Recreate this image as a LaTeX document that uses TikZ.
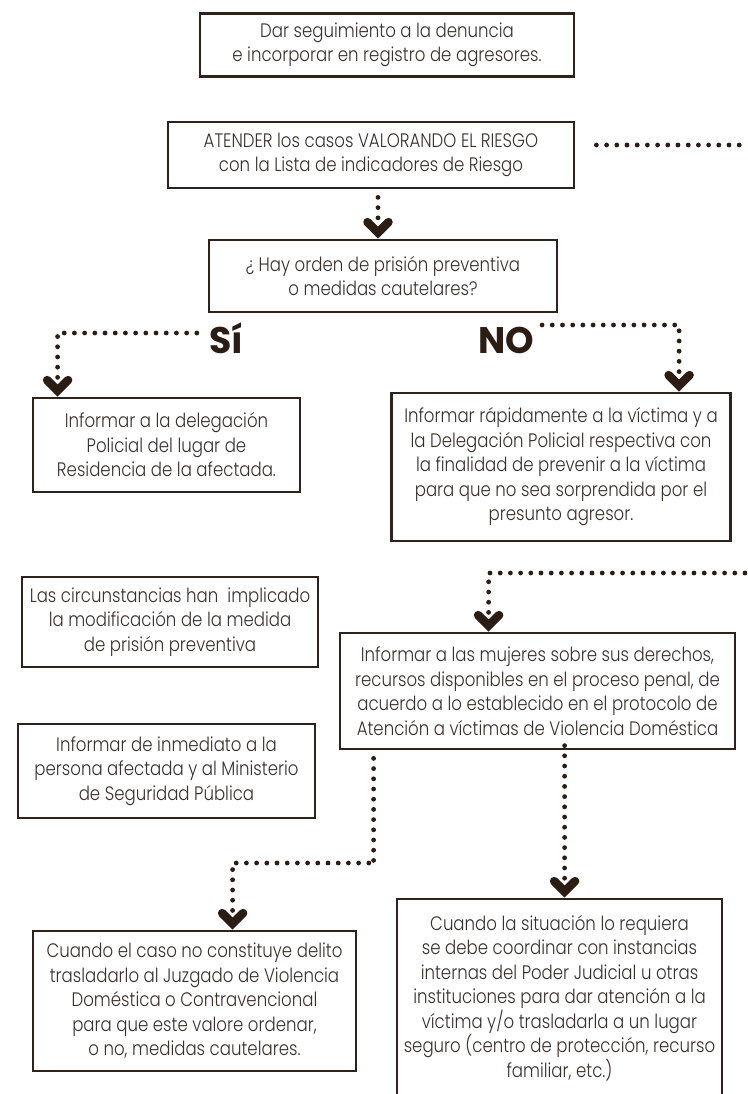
\documentclass[tikz,border=0pt]{standalone}
\usepackage{fontspec}
\IfFontExistsTF{Poppins Light}{\setmainfont{Poppins Light}[FakeStretch=0.85]}{\setmainfont{Poppins}[FakeStretch=0.85]}
\IfFontExistsTF{Poppins Bold}{\newfontfamily\boldfont{Poppins Bold}[FakeStretch=0.98]}{\newfontfamily\boldfont{Poppins}[FakeStretch=0.98,FakeBold=2]}
\usetikzlibrary{calc}
\definecolor{frame}{HTML}{2E221A}
\definecolor{txt}{HTML}{3A302A}
\definecolor{dotc}{HTML}{2B1D14}
\tikzset{
  box/.style={draw=frame, line width=2.8pt, text=txt, align=center, inner sep=0pt,
    font=\fontsize{19.5}{24.5}\selectfont},
  dotline/.style={draw=dotc, line width=4.8pt, line cap=round, dash pattern=on 0pt off 10.2pt},
  chev/.style={draw=dotc, line width=8.5pt, line cap=round, line join=miter},
  bigword/.style={text=dotc, inner sep=0pt, font=\boldfont\fontsize{37}{37}\selectfont},
  chevron/.pic={\draw[chev] (-10.5,-16.5) -- (0,-6) -- (10.5,-16.5);}
}
\begin{document}
\begin{tikzpicture}[x=1pt,y=-1pt]
\useasboundingbox (0,0) rectangle (747,1094);
\clip (0,0) rectangle (747,1094);

% boxes
\node[box, minimum width=374, minimum height=63] (b1) at (387,45)
  {Dar seguimiento a la denuncia\\e incorporar en registro de agresores.};
\node[box, minimum width=406, minimum height=66] (b2) at (371,155)
  {ATENDER los casos VALORANDO EL RIESGO\\con la Lista de indicadores de Riesgo};
\node[box, minimum width=348, minimum height=72] (b3) at (383,276)
  {¿ Hay orden de prisión preventiva\\o medidas cautelares?};
\node[box, minimum width=267, minimum height=94] (b4) at (166.5,445)
  {Informar a la delegación\\Policial del lugar de\\Residencia de la afectada.};
\node[box, minimum width=339, minimum height=148] (b5) at (561,467)
  {Informar rápidamente a la víctima y a\\la Delegación Policial respectiva con\\la finalidad de prevenir a la víctima\\para que no sea sorprendida por el\\presunto agresor.};
\node[box, minimum width=296, minimum height=90] (b6) at (170,622)
  {Las circunstancias han\ \ implicado\\la modificación de la medida\\de prisión preventiva};
\node[box, minimum width=395, minimum height=116] (b7) at (537.5,691)
  {Informar a las mujeres sobre sus derechos,\\recursos disponibles en el proceso penal, de\\acuerdo a lo establecido en el protocolo de\\Atención a víctimas de Violencia Doméstica};
\node[box, minimum width=297, minimum height=94] (b8) at (166.5,771)
  {Informar de inmediato a la\\persona afectada y al Ministerio\\de Seguridad Pública};
\node[box, minimum width=323, minimum height=140] (b9) at (194.5,1001)
  {Cuando el caso no constituye delito\\trasladarlo al Juzgado de Violencia\\Doméstica o Contravencional\\para que este valore ordenar,\\o no, medidas cautelares.};
\node[box, minimum width=325, minimum height=198] (b10) at (559.5,998)
  {Cuando la situación lo requiera\\se debe coordinar con instancias\\internas del Poder Judicial u otras\\instituciones para dar atención a la\\víctima y/o trasladarla a un lugar\\seguro (centro de protección, recurso\\familiar, etc.)};

% labels
\node[bigword] (si) at (226,338) {Sí};
\node[bigword] (no) at (506,340) {NO};

% free ends and chevron tips
\coordinate (e1) at (745,145);
\coordinate (e2) at (745,573);
\coordinate (t3) at ($(b3.north)+(-5,0)$);
\coordinate (t4) at ($(b4.north west)+(26,0)$);
\coordinate (t5) at ($(b5.north west)+(289,0)$);
\coordinate (t7) at ($(b7.north west)+(150,0)$);
\coordinate (t9) at ($(b9.north west)+(201,0)$);
\coordinate (t10) at ($(b10.north west)+(169,0)$);

% connectors
\draw[dotline] ($(b2.east)+(21,-10)$) -- (e1);
\draw[dotline] ($(b2.south)+(7,8)$) -- ($(t3)+(0,-15)$);
\draw[dotline] ($(si.west)+(-12,-5)$) -| ($(t4)+(0,-15)$);
\draw[dotline] ($(no.east)+(8,-15)$) -| ($(t5)+(0,-15)$);
\draw[dotline] (e2) -| ($(t7)+(0,-15)$);
\draw[dotline] ($(b7.south west)+(35,8)$) |- (375,863) -| ($(t9)+(0,-15)$);
\draw[dotline] ($(b10.north west)+(169,-152)$) -- ($(t10)+(0,-15)$);

% chevrons
\pic at (t3) {chevron};
\pic at (t4) {chevron};
\pic at (t5) {chevron};
\pic at (t7) {chevron};
\pic at (t9) {chevron};
\pic at (t10) {chevron};
\end{tikzpicture}
\end{document}
